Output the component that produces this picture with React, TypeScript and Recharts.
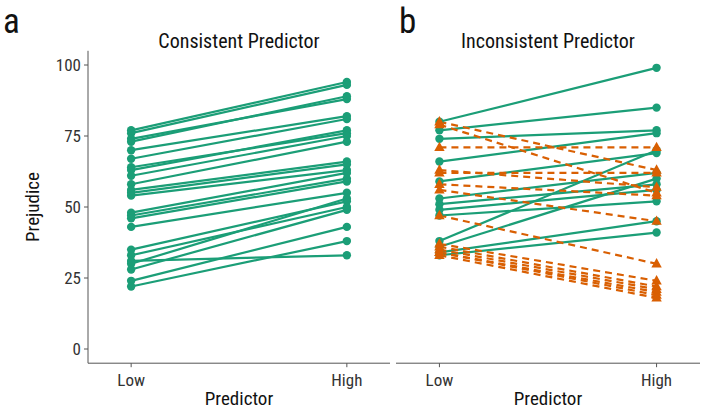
import React from 'react';
import { LineChart, Line, XAxis, YAxis } from 'recharts';

const categories = ['Low', 'High'];
const yTicks = [0, 25, 50, 75, 100];

// Panel a: Consistent Predictor (Low -> High)
const consistentLow = [77, 76, 74, 73, 70, 67, 64, 63, 61, 58, 56, 55, 54, 48, 47, 46, 43, 35, 33, 31, 30, 28, 24, 22];
const consistentHigh = [94, 93, 88, 89, 82, 81, 76, 77, 75, 73, 66, 65, 63, 62, 60, 59, 55, 52, 50, 33, 53, 49, 43, 38];

// Panel b: Inconsistent Predictor, green (solid) subjects
const inconsGreenLow = [80, 77, 74, 66, 59, 53, 51, 49, 47, 38, 36, 34, 33];
const inconsGreenHigh = [99, 85, 77, 76, 69, 62, 58, 56, 52, 70, 60, 45, 41];

// Panel b: Inconsistent Predictor, orange (dashed) subjects
const inconsOrangeLow = [80, 79, 71, 63, 62, 58, 56, 47, 37, 36, 35, 34, 34, 33];
const inconsOrangeHigh = [63, 55, 71, 57, 62, 54, 45, 30, 24, 22, 21, 20, 19, 18];

const GREEN = '#1B9E77';
const ORANGE = '#D95F02';
const AXIS = '#555555';
const FONT = "'Liberation Sans Narrow','Roboto Condensed','DejaVu Sans Condensed','Arial Narrow',sans-serif";

const toPairs = (low: number[], high: number[]) =>
  low.map((v, i) => [
    { x: 1, y: v },
    { x: 2, y: high[i] },
  ]);

const Tri = (props: any) => {
  const { cx, cy, index } = props;
  if (cx == null || cy == null) return <g key={`t-${index}`} />;
  const s = 5.2;
  return (
    <polygon
      key={`t-${index}-${cx}-${cy}`}
      points={`${cx},${cy - s * 1.1} ${cx - s},${cy + s * 0.7} ${cx + s},${cy + s * 0.7}`}
      fill={ORANGE}
    />
  );
};

const tickStyle = { fontSize: 17, fill: '#333333', fontFamily: FONT };

function Panel(props: {
  left: number;
  width: number;
  showY: boolean;
  green: { x: number; y: number }[][];
  orange: { x: number; y: number }[][];
}) {
  const { left, width, showY, green, orange } = props;
  return (
    <div style={{ position: 'absolute', left, top: 0 }}>
      <LineChart
        width={width}
        height={415}
        margin={{ top: 50.8, right: 2, left: 0, bottom: 21.8 }}
      >
        <XAxis
          type="number"
          dataKey="x"
          domain={[0.8, 2.2]}
          ticks={[1, 2]}
          tickFormatter={(v: number) => categories[v - 1]}
          height={30}
          stroke={AXIS}
          tickSize={4}
          tickMargin={7}
          tick={tickStyle}
          allowDataOverflow
        />
        <YAxis
          type="number"
          domain={[-5, 105]}
          ticks={yTicks}
          width={88}
          hide={!showY}
          stroke={AXIS}
          tickSize={4}
          tickMargin={3}
          tick={tickStyle}
          allowDataOverflow
        />
        {green.map((d, i) => (
          <Line
            key={`g-${i}`}
            data={d}
            dataKey="y"
            type="linear"
            stroke={GREEN}
            strokeWidth={2.2}
            dot={{ r: 4.2, fill: GREEN, stroke: GREEN, strokeWidth: 0 }}
            isAnimationActive={false}
          />
        ))}
        {orange.map((d, i) => (
          <Line
            key={`o-${i}`}
            data={d}
            dataKey="y"
            type="linear"
            stroke={ORANGE}
            strokeWidth={2.2}
            strokeDasharray="7 5"
            dot={Tri}
            isAnimationActive={false}
          />
        ))}
      </LineChart>
    </div>
  );
}

export default function App() {
  const txt = { fontFamily: FONT, fill: '#111111' };
  return (
    <div style={{ position: 'fixed', left: 0, top: 0, width: 702, height: 415, background: '#ffffff' }}>
      <Panel left={0} width={392} showY green={toPairs(consistentLow, consistentHigh)} orange={[]} />
      <Panel
        left={396}
        width={306}
        showY={false}
        green={toPairs(inconsGreenLow, inconsGreenHigh)}
        orange={toPairs(inconsOrangeLow, inconsOrangeHigh)}
      />
      <svg width={702} height={415} style={{ position: 'absolute', left: 0, top: 0, pointerEvents: 'none' }}>
        <text x={3} y={33} fontSize={35} {...txt}>a</text>
        <text x={399} y={33} fontSize={35} {...txt}>b</text>
        <text x={239} y={48} fontSize={20} textAnchor="middle" {...txt}>Consistent Predictor</text>
        <text x={548} y={48} fontSize={20} textAnchor="middle" {...txt}>Inconsistent Predictor</text>
        <text x={239} y={405} fontSize={19} textAnchor="middle" {...txt}>Predictor</text>
        <text x={548} y={405} fontSize={19} textAnchor="middle" {...txt}>Predictor</text>
        <text x={0} y={0} fontSize={19} textAnchor="middle" transform="translate(39,207) rotate(-90)" {...txt}>Prejudice</text>
      </svg>
    </div>
  );
}
